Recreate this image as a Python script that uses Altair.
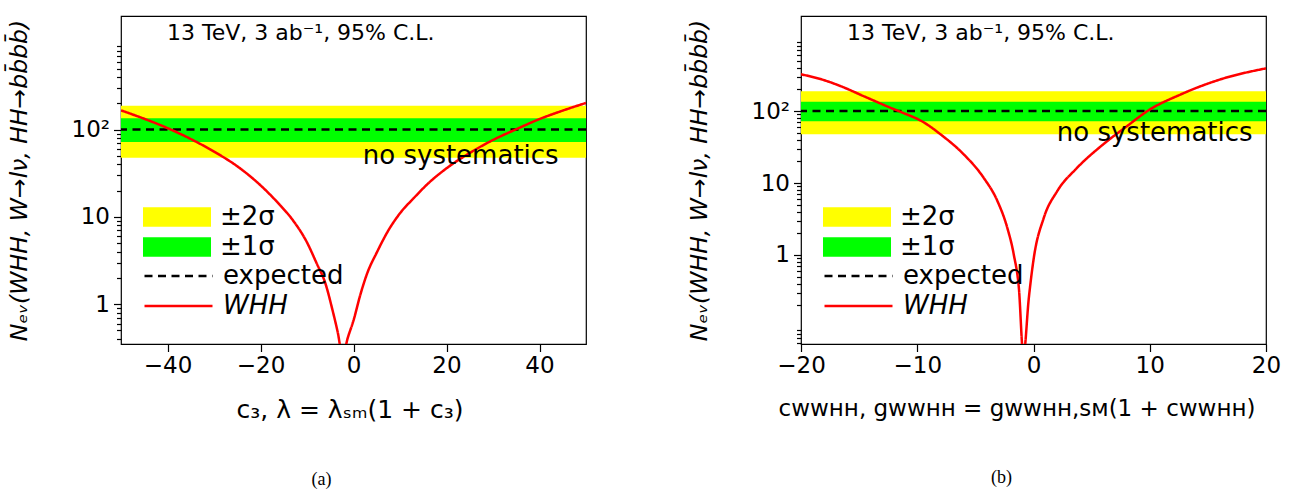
import altair as alt
import pandas as pd

# ---------------- data ----------------
# panel (a): N_ev versus c3
c3 = [-50, -45, -40, -35, -30, -25, -20, -16, -13, -10, -8, -6, -4.5, -3.4, -2.3,
      -1.3, 0, 1.5, 3, 5, 7.5, 10, 13, 16, 20, 25, 30, 35, 40, 45, 50]
n_c3 = [166, 133, 104, 78, 56, 38, 23, 14, 9.1, 5.1, 3.0, 1.7, 0.85, 0.48, 0.25,
        0.4, 0.65, 1.3, 2.3, 3.9, 7.0, 11, 16.5, 24, 36, 54, 76, 101, 132, 165, 202]

# panel (b): N_ev versus c_WWHH
c_wwhh = [-20, -18, -16.6, -14.5, -12.3, -11.4, -9.4, -8.0, -6.0, -4.3, -3.1, -2.26,
          -1.7, -1.26, -0.87, -0.4, 0.03, 0.89, 2.04, 3.76, 6.05, 8.06, 9.8, 12.7, 16.1, 20]
n_wwhh = [324, 268, 222, 158, 111, 97, 69, 47.5, 25, 11.9, 5.6, 2.4,
          1.02, 0.35, 0.04, 0.255, 0.92, 3.3, 7.7, 16.3, 35, 62, 100, 171, 276, 392]

band_names = ["±2σ", "±1σ"]
band_low = [47.5, 72.0]
band_high = [188.0, 135.0]
band_colors = ["#ffff00", "#00ff00"]

line_names = ["expected", "WHH"]
line_colors = ["#000000", "#ff0000"]
expected_value = [100.0]

header_text = ["13 TeV, 3 ab⁻¹, 95% C.L."]
note_text = ["no systematics"]
captions = ["(a)", "(b)"]

major_y = [1, 10, 100]
minor_y_a = [0.4, 0.5, 0.6, 0.7, 0.8, 0.9, 2, 3, 4, 5, 6, 7, 8, 9,
             20, 30, 40, 50, 60, 70, 80, 90, 200, 300, 400, 500, 600, 700, 800, 900]
minor_y_b = [0.06, 0.07, 0.08, 0.09, 0.2, 0.3, 0.4, 0.5, 0.6, 0.7, 0.8, 0.9,
             2, 3, 4, 5, 6, 7, 8, 9, 20, 30, 40, 50, 60, 70, 80, 90,
             200, 300, 400, 500, 600, 700, 800, 900]

Y_TITLE = "Nₑᵥ(WHH, W→lν, HH→bb̄bb̄)"
X_TITLE_A = "c₃,  λ = λₛₘ(1 + c₃)"
X_TITLE_B = "cᴡᴡʜʜ, gᴡᴡʜʜ = gᴡᴡʜʜ,ꜱᴍ(1 + cᴡᴡʜʜ)"

FONT = "DejaVu Sans"
TICK_FS = 23
Y_TITLE_FS = 23.5
BIG_FS = 26
HEAD_FS = 22
W, H = 465, 328

MAJOR_TEST = "datum.value == 1 || datum.value == 10 || datum.value == 100"
LABEL_EXPR = ("datum.value == 1 ? '1' : datum.value == 10 ? '10' : "
              "datum.value == 100 ? '10²' : ''")


def make_panel(xv, yv, xdomain, xticks, ydomain, yminor, xtitle, xtitle_fs,
               xtitle_shift, caption):
    xs = alt.Scale(domain=xdomain, nice=False, zero=False)
    ys = alt.Scale(type="log", domain=ydomain, nice=False)
    yaxis = alt.Axis(values=major_y + yminor, labelExpr=LABEL_EXPR,
                     tickSize={"condition": {"test": MAJOR_TEST, "value": 7.5}, "value": 4.5},
                     labelOverlap=False, title=Y_TITLE, titleFontStyle="italic",
                     titleFontSize=Y_TITLE_FS, titlePadding=40, labelPadding=4)
    xaxis = alt.Axis(values=xticks, format="d", title=xtitle, titleFontSize=xtitle_fs,
                     titleX=W / 2 + xtitle_shift,
                     labelFlush=False, tickSize=7.5, labelPadding=3, titlePadding=20,
                     labelOverlap=False)

    fill_legend = alt.Legend(title=None, orient="none", legendX=22, legendY=191,
                             direction="vertical", symbolType="M-1,-0.287H1V0.287H-1Z",
                             symbolSize=4624, clipHeight=20, rowPadding=4,
                             labelOffset=9, padding=0, symbolStrokeWidth=0,
                             labelFontSize=BIG_FS)
    stroke_legend = alt.Legend(title=None, orient="none", legendX=22, legendY=250,
                               direction="vertical", symbolType="M-1,0H1",
                               symbolSize=4624, clipHeight=20, rowPadding=4,
                               labelOffset=9, padding=0, symbolStrokeWidth=2.5,
                               labelFontSize=BIG_FS,
                               labelFontStyle={"expr": "datum.label == 'WHH' ? 'italic' : 'normal'"})
    stroke_scale = alt.Scale(domain=line_names, range=line_colors)
    dash_scale = alt.Scale(domain=line_names, range=[[8, 5.5], [1, 0]])

    bands_df = pd.DataFrame({"band": band_names, "lo": band_low, "hi": band_high})
    bands = alt.Chart(bands_df).mark_rect().encode(
        y=alt.Y("lo:Q", scale=ys, axis=yaxis),
        y2="hi:Q",
        fill=alt.Fill("band:N", scale=alt.Scale(domain=band_names, range=band_colors),
                      legend=fill_legend),
    )

    exp_df = pd.DataFrame({"series": ["expected"], "n": expected_value})
    rule = alt.Chart(exp_df).mark_rule(strokeWidth=2.5).encode(
        y=alt.Y("n:Q", scale=ys, axis=yaxis),
        stroke=alt.Stroke("series:N", scale=stroke_scale, legend=stroke_legend),
        strokeDash=alt.StrokeDash("series:N", scale=dash_scale, legend=stroke_legend),
    )

    curve_df = pd.DataFrame({"x": xv, "n": yv, "series": "WHH"})
    curve = alt.Chart(curve_df).mark_line(strokeWidth=2.5, clip=True,
                                          interpolate="monotone").encode(
        x=alt.X("x:Q", scale=xs, axis=xaxis),
        y=alt.Y("n:Q", scale=ys, axis=yaxis),
        stroke=alt.Stroke("series:N", scale=stroke_scale, legend=stroke_legend),
        strokeDash=alt.StrokeDash("series:N", scale=dash_scale, legend=stroke_legend),
    )

    header = alt.Chart(pd.DataFrame({"t": header_text})).mark_text(
        align="left", baseline="middle", font=FONT, fontSize=HEAD_FS, color="black"
    ).encode(x=alt.value(46), y=alt.value(17), text="t:N")

    note = alt.Chart(pd.DataFrame({"t": note_text})).mark_text(
        align="left", baseline="middle", font=FONT, fontSize=BIG_FS, color="black"
    ).encode(x=alt.datum(2), y=alt.datum(50), text="t:N")

    return alt.layer(bands, rule, curve, header, note).properties(
        width=W, height=H,
        title=alt.TitleParams(caption, orient="bottom", font="Liberation Serif",
                              fontSize=18, fontWeight="normal", color="black",
                              offset=48, dx=-32, anchor="middle"),
    )


left = make_panel(c3, n_c3, [-50, 50], [-40, -20, 0, 20, 40], [0.35, 2000],
                  minor_y_a, X_TITLE_A, 25, -4, captions[0])
right = make_panel(c_wwhh, n_wwhh, [-20, 20], [-20, -10, 0, 10, 20], [0.058, 2090],
                   minor_y_b, X_TITLE_B, 23, -17, captions[1])

chart = alt.hconcat(left, right, spacing=98).resolve_scale(
    fill="independent", stroke="independent", strokeDash="independent"
).resolve_legend(
    fill="independent", stroke="independent", strokeDash="independent"
).properties(
    padding={"left": 6, "top": 15, "right": 5, "bottom": 5},
    background="white",
).configure_view(stroke="black", strokeWidth=1.2).configure_axis(
    labelFont=FONT, labelFontSize=TICK_FS, labelColor="black",
    titleFont=FONT, titleFontWeight="normal", titleColor="black",
    tickColor="black", tickWidth=1.2, domain=False, grid=False,
).configure_legend(
    labelFont=FONT, labelFontSize=BIG_FS, labelColor="black", labelLimit=300,
)

chart.save("out.html", embed_options={"renderer": "svg", "actions": False})
